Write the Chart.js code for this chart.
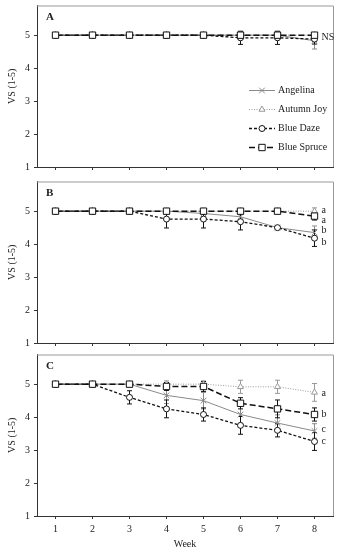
<!DOCTYPE html>
<html lang="en">
<head>
<meta charset="UTF-8">
<title>VS by week</title>
<script src="https://cdn.jsdelivr.net/npm/chart.js@4.4.0/dist/chart.umd.min.js"></script>
<style>
  body { margin: 0; background: #fff; }
  .panel { position: absolute; left: 0; width: 340px; }
</style>
</head>
<body>
<div class="panel" style="top:0;height:180px"><canvas id="chartA"></canvas></div>
<div class="panel" style="top:176px;height:179px"><canvas id="chartB"></canvas></div>
<div class="panel" style="top:349px;height:201px"><canvas id="chartC"></canvas></div>

<script>
const weeks = ['1', '2', '3', '4', '5', '6', '7', '8'];
const yTicks = [1, 2, 3, 4, 5];
const cultivars = ['Angelina', 'Autumn Joy', 'Blue Daze', 'Blue Spruce'];

// panel A
const angelinaA   = [5, 5, 5, 5, 5, 5, 5, 4.83];
const autumnJoyA  = [5, 5, 5, 5, 5, 5, 5, 5];
const blueDazeA   = [5, 5, 5, 5, 5, 4.92, 4.92, 4.88];
const blueSpruceA = [5, 5, 5, 5, 5, 5, 5, 5];
const angelinaErrA   = [0, 0, 0, 0, 0, 0, 0, 0.25];
const autumnJoyErrA  = [0, 0, 0, 0, 0, 0, 0, 0];
const blueDazeErrA   = [0, 0, 0, 0, 0, 0.2, 0.2, 0.15];
const blueSpruceErrA = [0, 0, 0, 0, 0, 0.05, 0.05, 0.05];
const sigTextA = ['NS'];
const sigPosA  = [4.94];

// panel B
const angelinaB   = [5, 5, 5, 5, 4.93, 4.83, 4.5, 4.35];
const autumnJoyB  = [5, 5, 5, 5, 5, 5, 5, 5];
const blueDazeB   = [5, 5, 5, 4.76, 4.76, 4.68, 4.5, 4.18];
const blueSpruceB = [5, 5, 5, 5, 5, 5, 5, 4.85];
const angelinaErrB   = [0, 0, 0, 0, 0.1, 0.15, 0, 0.2];
const autumnJoyErrB  = [0, 0, 0, 0, 0.08, 0, 0, 0.1];
const blueDazeErrB   = [0, 0, 0, 0.27, 0.27, 0.25, 0, 0.25];
const blueSpruceErrB = [0, 0, 0, 0, 0, 0.05, 0, 0.12];
const sigTextB = ['a', 'a', 'b', 'b'];
const sigPosB  = [5.03, 4.73, 4.41, 4.05];

// panel C
const angelinaC   = [5, 5, 5, 4.66, 4.5, 4.08, 3.82, 3.58];
const autumnJoyC  = [5, 5, 5, 5, 5, 4.92, 4.92, 4.75];
const blueDazeC   = [5, 5, 4.6, 4.25, 4.08, 3.75, 3.6, 3.26];
const blueSpruceC = [5, 5, 5, 4.93, 4.93, 4.42, 4.25, 4.08];
const angelinaErrC   = [0, 0, 0, 0.25, 0.25, 0.27, 0.25, 0.22];
const autumnJoyErrC  = [0, 0, 0, 0.1, 0.1, 0.2, 0.2, 0.27];
const blueDazeErrC   = [0, 0, 0.2, 0.27, 0.2, 0.27, 0.2, 0.27];
const blueSpruceErrC = [0, 0, 0, 0.12, 0.15, 0.17, 0.27, 0.2];
const sigTextC = ['a', 'b', 'c', 'c'];
const sigPosC  = [4.71, 4.08, 3.64, 3.27];

const FONT = 'Liberation Serif, Times New Roman, serif';
const INK = '#222';

const styles = [
    { borderColor: '#8a8a8a', borderWidth: 1, borderDash: [], pointStyle: 'crossRot', pointRadius: 4, order: 2 },
    { borderColor: '#9a9a9a', borderWidth: 1, borderDash: [1, 1.5], pointStyle: 'triangle', pointRadius: 3.5, order: 3 },
    { borderColor: '#111', borderWidth: 1.3, borderDash: [3, 2], pointStyle: 'circle', pointRadius: 3, order: 1 },
    { borderColor: '#111', borderWidth: 1.5, borderDash: [6, 3], pointStyle: 'rect', pointRadius: 4.5, order: 0 }
];

// error bars drawn under the markers
const errorBars = {
    id: 'errorBars',
    beforeDatasetsDraw(chart) {
        const ctx = chart.ctx, xs = chart.scales.x, ys = chart.scales.y;
        chart.data.datasets.forEach(ds => {
            ds.errors.forEach((e, j) => {
                if (!e) return;
                const px = xs.getPixelForValue(j);
                const t = ys.getPixelForValue(ds.data[j] + e);
                const b = ys.getPixelForValue(ds.data[j] - e);
                ctx.save();
                ctx.strokeStyle = ds.borderColor;
                ctx.lineWidth = 1;
                ctx.beginPath();
                ctx.moveTo(px, t); ctx.lineTo(px, b);
                ctx.moveTo(px - 2.5, t); ctx.lineTo(px + 2.5, t);
                ctx.moveTo(px - 2.5, b); ctx.lineTo(px + 2.5, b);
                ctx.stroke();
                ctx.restore();
            });
        });
    }
};

// frame, panel letter, significance letters, inset legend
const panelDecor = {
    id: 'panelDecor',
    afterDraw(chart, args, o) {
        const ctx = chart.ctx, a = chart.chartArea;
        const xs = chart.scales.x, ys = chart.scales.y;
        ctx.save();
        ctx.strokeStyle = '#999';
        ctx.lineWidth = 1;
        ctx.beginPath();
        ctx.moveTo(a.left, a.top + 0.5); ctx.lineTo(a.right + 0.5, a.top + 0.5); ctx.lineTo(a.right + 0.5, a.bottom);
        ctx.stroke();

        ctx.fillStyle = INK;
        ctx.font = 'bold 11px ' + FONT;
        ctx.textBaseline = 'middle';
        ctx.fillText(o.tag, a.left + 9, a.top + 12);

        ctx.font = '10px ' + FONT;
        const sx = xs.getPixelForValue(weeks.length - 1) + 7;
        o.sigText.forEach((t, i) => ctx.fillText(t, sx, ys.getPixelForValue(o.sigPos[i])));

        if (o.legend) {
            chart.data.datasets.forEach((ds, i) => {
                const y = a.top + 85 + i * 19;
                const x0 = a.left + 212;
                ctx.strokeStyle = ds.borderColor;
                ctx.lineWidth = ds.borderWidth;
                ctx.setLineDash(ds.borderDash);
                ctx.beginPath();
                ctx.moveTo(x0, y); ctx.lineTo(x0 + 26, y);
                ctx.stroke();
                ctx.setLineDash([]);
                ctx.lineWidth = 1;
                ctx.fillStyle = '#fff';
                Chart.helpers.drawPoint(ctx, { pointStyle: ds.pointStyle, radius: ds.pointRadius, rotation: 0, borderWidth: 1 }, x0 + 13, y);
                ctx.fillStyle = INK;
                ctx.fillText(ds.label, x0 + 29, y);
            });
        }
        ctx.restore();
    }
};

function makePanel(id, series, errs, tag, sigText, sigPos, padTop, xHeight, showX, legend) {
    const datasets = series.map((vals, i) => Object.assign({
        label: cultivars[i],
        data: vals,
        errors: errs[i],
        pointBackgroundColor: '#fff',
        pointBorderColor: styles[i].borderColor,
        pointBorderWidth: 1,
        tension: 0,
        fill: false
    }, styles[i]));

    new Chart(document.getElementById(id), {
        type: 'line',
        data: { labels: weeks, datasets: datasets },
        plugins: [errorBars, panelDecor],
        options: {
            responsive: true,
            maintainAspectRatio: false,
            animation: false,
            layout: { padding: { top: padTop, right: 7, left: 0, bottom: 0 } },
            plugins: {
                legend: { display: false },
                tooltip: { enabled: false },
                panelDecor: { tag: tag, sigText: sigText, sigPos: sigPos, legend: legend }
            },
            scales: {
                x: {
                    type: 'category',
                    offset: true,
                    afterFit: s => { s.height = xHeight; },
                    grid: { drawOnChartArea: false, offset: false, tickLength: 3, color: '#333' },
                    border: { color: '#333' },
                    ticks: { display: showX, font: { family: FONT, size: 10 }, color: INK, padding: 4, maxRotation: 0 },
                    title: { display: showX, text: 'Week', font: { family: FONT, size: 10 }, color: INK, padding: { top: 0, bottom: 0 } }
                },
                y: {
                    min: 1,
                    max: 5.9,
                    afterBuildTicks: s => { s.ticks = yTicks.map(v => ({ value: v })); },
                    afterFit: s => { s.width = 37; s.paddingTop = 0; },
                    grid: { drawOnChartArea: false, tickLength: 3, color: '#333' },
                    border: { color: '#333' },
                    ticks: { font: { family: FONT, size: 10 }, color: INK, padding: 4 },
                    title: { display: true, text: 'VS (1-5)', font: { family: FONT, size: 10 }, color: INK, padding: { top: 6, bottom: 0 } }
                }
            }
        }
    });
}

makePanel('chartA',
    [angelinaA, autumnJoyA, blueDazeA, blueSpruceA],
    [angelinaErrA, autumnJoyErrA, blueDazeErrA, blueSpruceErrA],
    'A', sigTextA, sigPosA, 5, 13, false, true);

makePanel('chartB',
    [angelinaB, autumnJoyB, blueDazeB, blueSpruceB],
    [angelinaErrB, autumnJoyErrB, blueDazeErrB, blueSpruceErrB],
    'B', sigTextB, sigPosB, 1, 12, false, false);

makePanel('chartC',
    [angelinaC, autumnJoyC, blueDazeC, blueSpruceC],
    [angelinaErrC, autumnJoyErrC, blueDazeErrC, blueSpruceErrC],
    'C', sigTextC, sigPosC, 1, 34, true, false);
</script>
</body>
</html>
